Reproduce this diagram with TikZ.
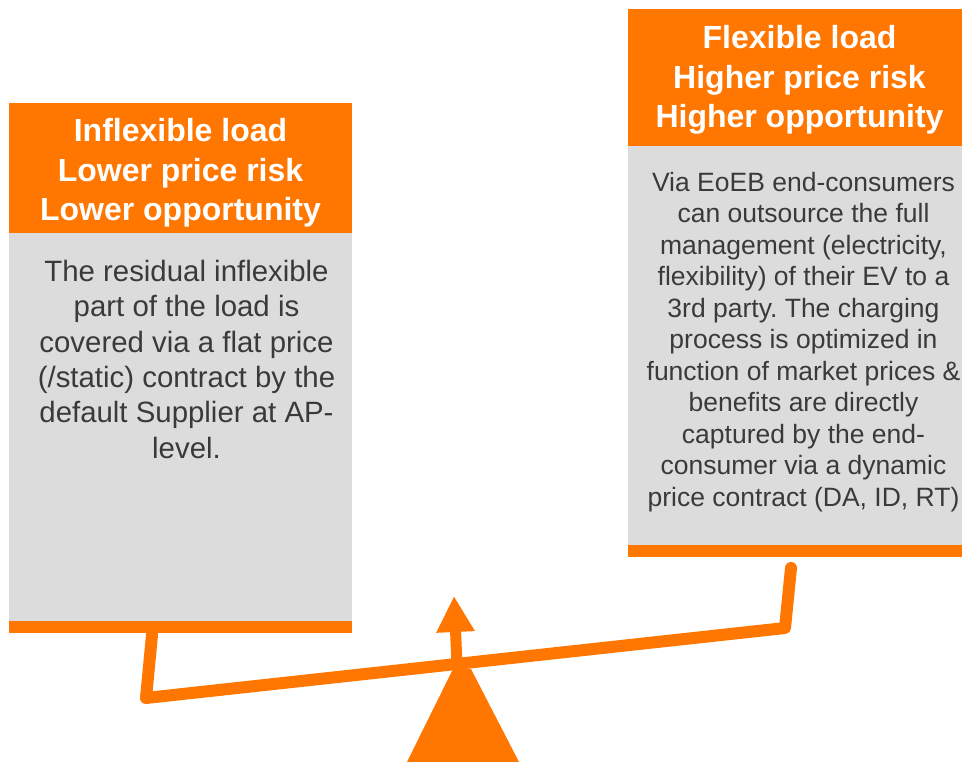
\documentclass[tikz,border=0pt]{standalone}
\usepackage{fontspec}
\setmainfont{Liberation Sans}
\usetikzlibrary{positioning,arrows.meta}
\definecolor{loadorange}{HTML}{FF7600}
\definecolor{loadgray}{HTML}{DCDCDC}
\definecolor{loadtext}{HTML}{3A3A3A}
\frenchspacing

\begin{document}
\begin{tikzpicture}[x=1pt,y=-1pt,
  head node/.style={rectangle,fill=loadorange,inner sep=0pt,outer sep=0pt,minimum width=343pt,
    text=white,align=center,font=\fontsize{32}{39.5}\selectfont\bfseries},
  body node/.style={rectangle,fill=loadgray,inner sep=0pt,outer sep=0pt,minimum width=343pt},
  bar node/.style={rectangle,fill=loadorange,inner sep=0pt,outer sep=0pt,minimum width=343pt,minimum height=12pt},
  body text/.style={inner sep=0pt,align=center,text=loadtext},
  beam/.style={draw=loadorange,line width=12pt,line cap=round,line join=round}]

  \useasboundingbox (0,0) rectangle (962,762);

  \node[head node,minimum height=130pt,anchor=north west] (infhead) at (9,103)
    {\rule{0pt}{33.5pt}Inflexible load\\Lower price risk\\Lower opportunity};
  \node[body node,minimum height=388pt] (infbody) [below=0pt of infhead] {};
  \node[bar node] (infbar) [below=0pt of infbody] {};
  \node[body text,font=\fontsize{29.4}{35.3}\selectfont] (inftext) [below=27pt of infbody.north,xshift=6pt]
    {The residual inflexible\\part of the load is\\covered via a flat price\\(/static) contract by the\\default Supplier at AP-\\level.};

  \node[head node,minimum height=137pt,anchor=north west] (flexhead) at (628,9)
    {\rule{0pt}{28pt}Flexible load\\Higher price risk\\Higher opportunity};
  \node[body node,minimum height=399pt] (flexbody) [below=0pt of flexhead] {};
  \node[bar node] (flexbar) [below=0pt of flexbody] {};
  \node[body text,font=\fontsize{26.5}{31.5}\selectfont] (flextext) [below=26pt of flexbody.north,xshift=4pt]
    {Via EoEB end-consumers\\can outsource the full\\management (electricity,\\flexibility) of their EV to a\\3rd party. The charging\\process is optimized in\\function of market prices \&\\benefits are directly\\captured by the end-\\consumer via a dynamic\\price contract (DA, ID, RT)};

  \coordinate (lpost) at (152,635);
  \coordinate (lend) at (146,698);
  \coordinate (rend) at (785,628);
  \coordinate (rpost) at (791,568);
  \coordinate (pivot) at (457,664);
  \coordinate (tip) at (454,596);

  \fill[loadorange] (453,669) -- (471,669) -- (519,762) -- (407,762) -- cycle;
  \draw[loadorange,line width=11pt,-{Triangle[width=36pt,length=36pt]}] (pivot) -- (tip);
  \draw[beam] (lpost) -- (lend) -- (rend) -- (rpost);
\end{tikzpicture}
\end{document}
